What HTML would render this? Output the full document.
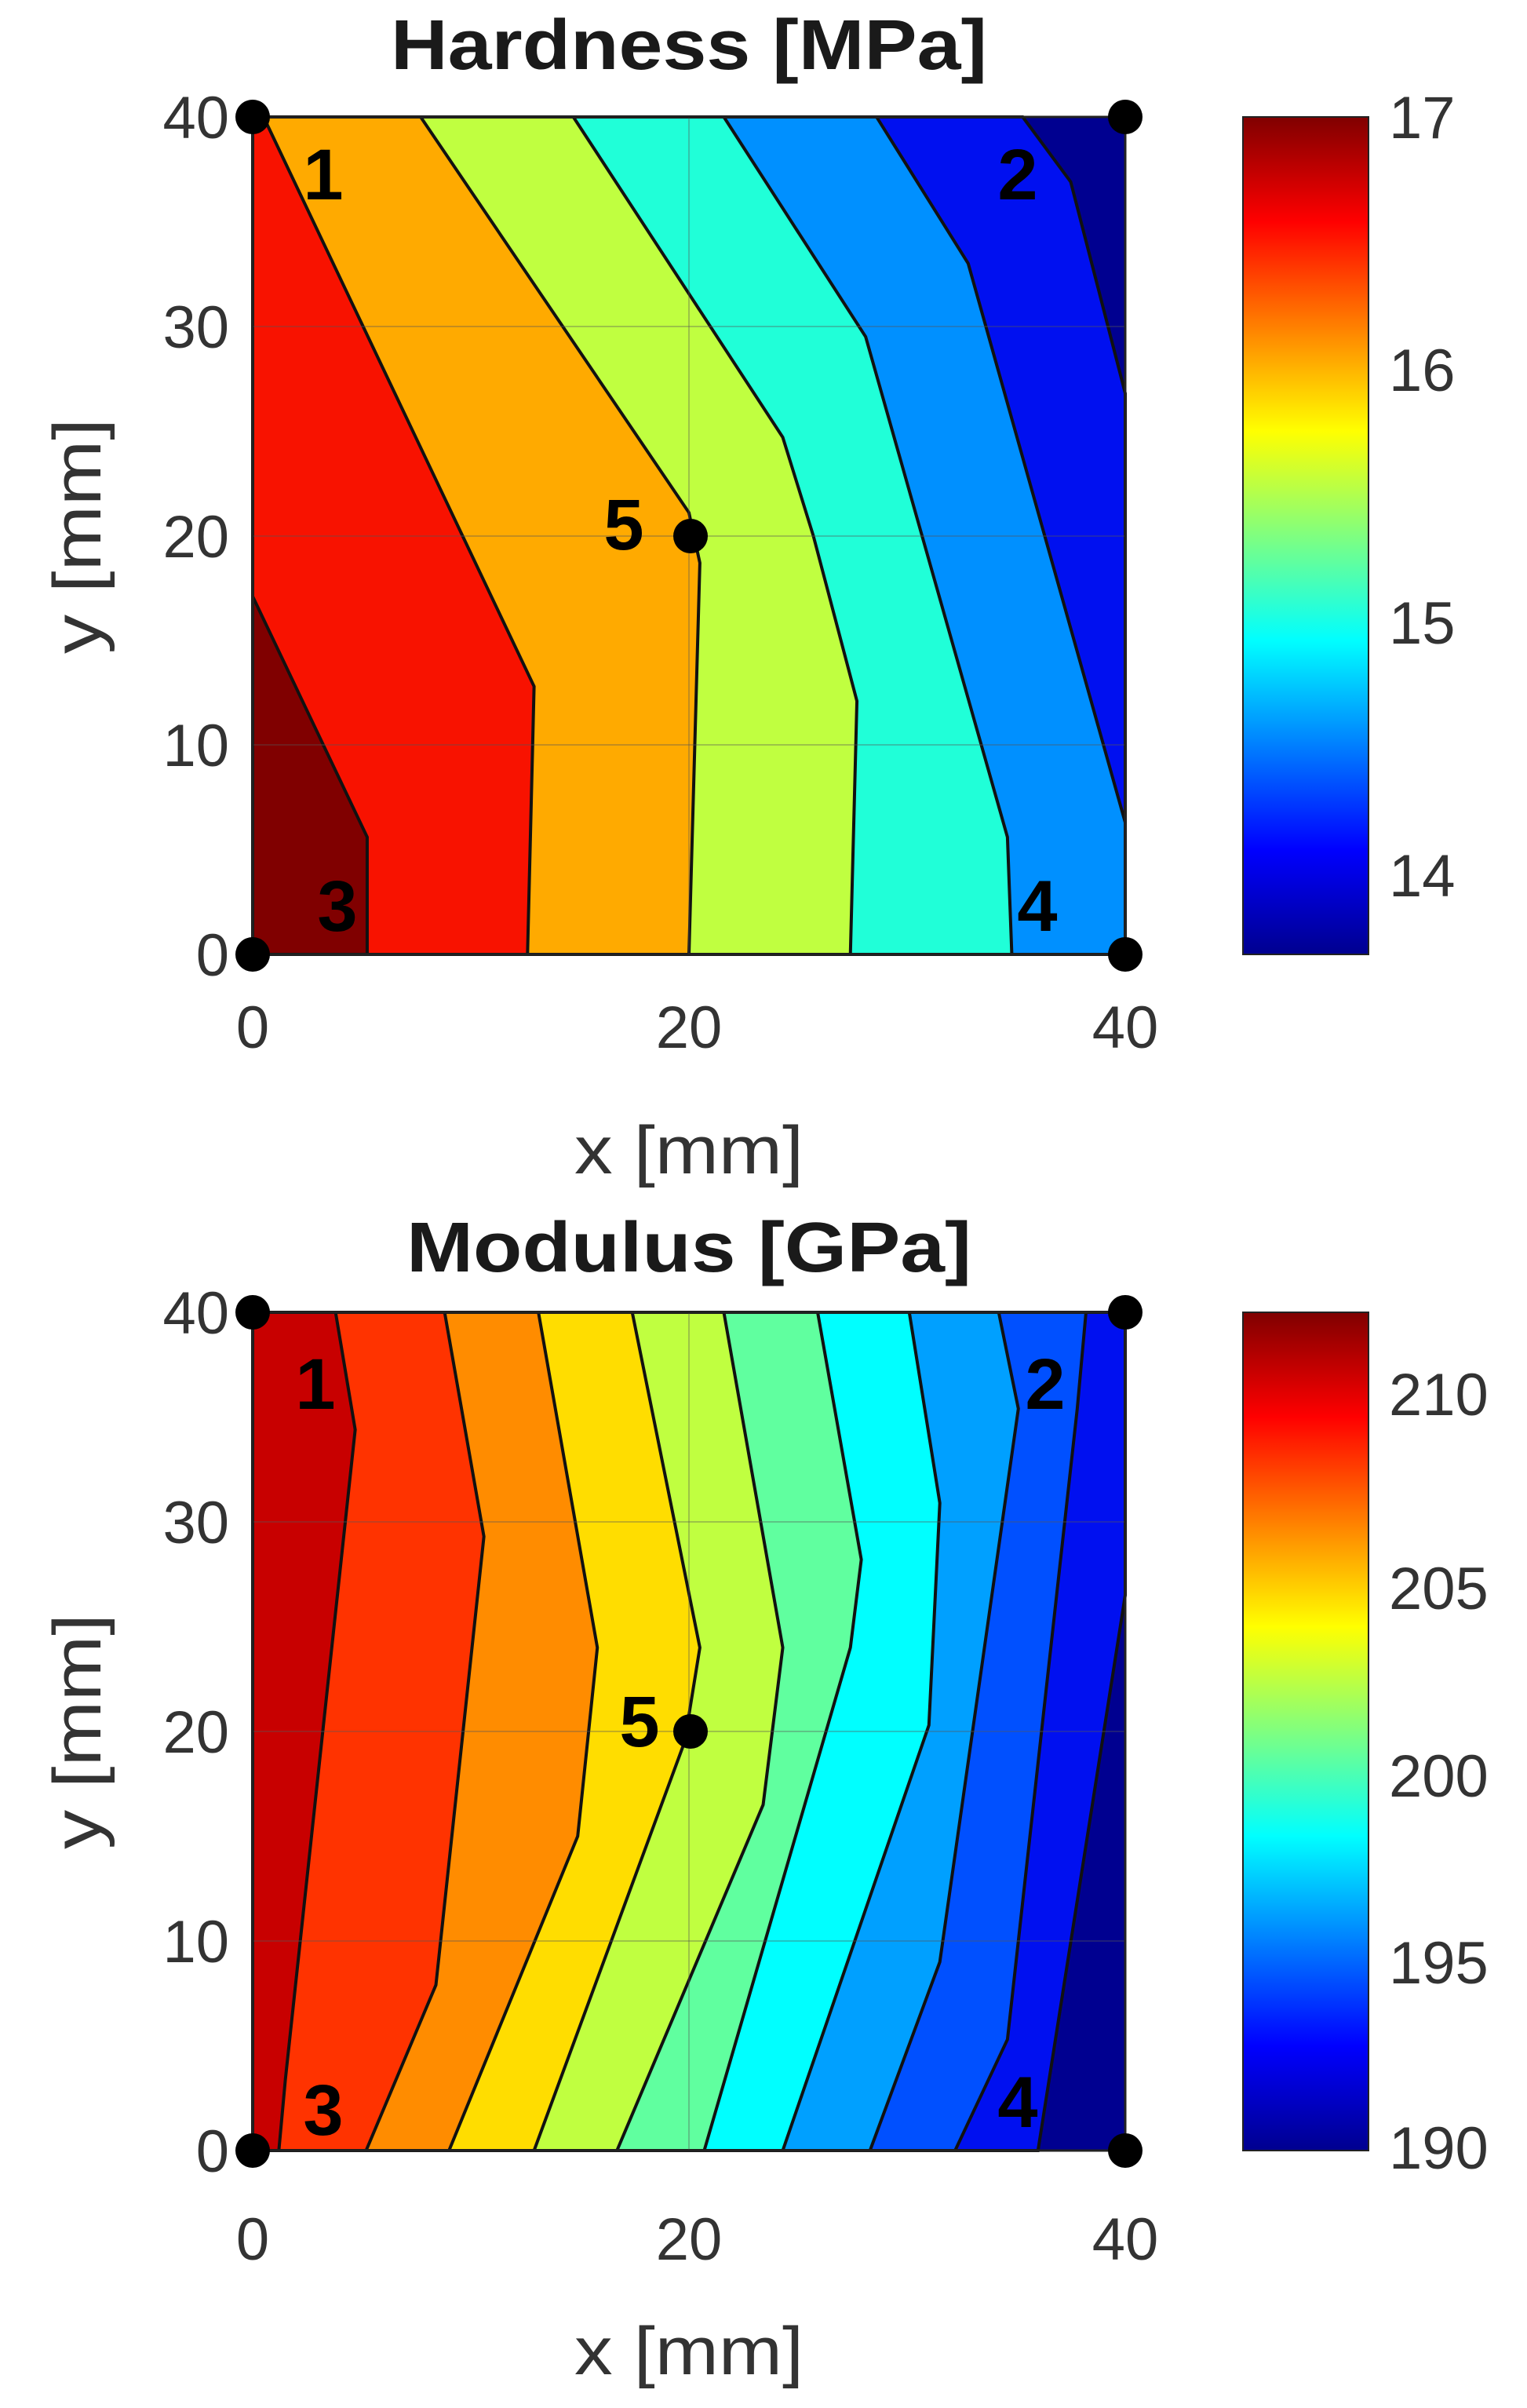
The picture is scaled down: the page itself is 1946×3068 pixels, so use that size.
<!DOCTYPE html>
<html><head><meta charset="utf-8"><style>
html,body{margin:0;padding:0;background:#fff;}
svg{display:block;}
text{font-family:"Liberation Sans",sans-serif;}
</style></head><body>
<svg width="1946" height="3068" viewBox="0 0 1946 3068" xmlns="http://www.w3.org/2000/svg">
<defs>
<linearGradient id="jet" x1="0" y1="1" x2="0" y2="0">
<stop offset="0" stop-color="#00008f"/>
<stop offset="0.125" stop-color="#0000ff"/>
<stop offset="0.375" stop-color="#00ffff"/>
<stop offset="0.625" stop-color="#ffff00"/>
<stop offset="0.875" stop-color="#ff0000"/>
<stop offset="1" stop-color="#800000"/>
</linearGradient>
</defs>

<!-- ============ TOP PLOT ============ -->
<text x="878" y="88" font-size="90" font-weight="bold" text-anchor="middle" fill="#1a1a1a" textLength="760" lengthAdjust="spacingAndGlyphs">Hardness [MPa]</text>
<g transform="translate(322,1216) scale(27.8,-26.675)" stroke="#111" stroke-width="4">
<rect x="0" y="0" width="40" height="40" fill="#000090" stroke="none"/>
<polygon points="35.3,40 37.5,36.9 40,26.8 40,0 0,0 0,40" fill="#0010f0" vector-effect="non-scaling-stroke"/>
<polygon points="28.6,40 32.8,33 40,6.3 40,0 0,0 0,40" fill="#0090ff" vector-effect="non-scaling-stroke"/>
<polygon points="21.6,40 28.1,29.5 34.6,5.6 34.8,0 0,0 0,40" fill="#20ffd8" vector-effect="non-scaling-stroke"/>
<polygon points="14.7,40 24.3,24.7 25.7,20 27.7,12.1 27.4,0 0,0 0,40" fill="#c0ff40" vector-effect="non-scaling-stroke"/>
<polygon points="7.7,40 20,21.1 20.5,18.7 20,0 0,0 0,40" fill="#ffaa00" vector-effect="non-scaling-stroke"/>
<polygon points="0.5,40 12.9,12.8 12.6,0 0,0 0,40" fill="#f81200" vector-effect="non-scaling-stroke"/>
<polygon points="0,17.1 5.25,5.6 5.25,0 0,0" fill="#800000" vector-effect="non-scaling-stroke"/>
</g>
<g stroke="#555" stroke-opacity="0.35" stroke-width="2">
<line x1="878" y1="149" x2="878" y2="1216"/>
<line x1="322" y1="416" x2="1434" y2="416"/>
<line x1="322" y1="683" x2="1434" y2="683"/>
<line x1="322" y1="949" x2="1434" y2="949"/>
</g>
<rect x="322" y="149" width="1112" height="1067" fill="none" stroke="#222" stroke-width="3"/>
<g fill="#333" font-size="76" text-anchor="end">
<text x="292" y="176">40</text><text x="292" y="443">30</text><text x="292" y="710">20</text><text x="292" y="976">10</text><text x="292" y="1243">0</text>
</g>
<g fill="#333" font-size="76" text-anchor="middle">
<text x="322" y="1335">0</text><text x="878" y="1335">20</text><text x="1434" y="1335">40</text>
</g>
<text x="878" y="1495" font-size="86" fill="#333" text-anchor="middle" textLength="292" lengthAdjust="spacingAndGlyphs">x [mm]</text>
<text transform="translate(128,683) rotate(-90)" font-size="86" fill="#333" text-anchor="middle" textLength="300" lengthAdjust="spacingAndGlyphs">y [mm]</text>
<g fill="#000">
<circle cx="322" cy="149" r="22"/><circle cx="1434" cy="149" r="22"/><circle cx="322" cy="1216" r="22"/><circle cx="1434" cy="1216" r="22"/><circle cx="880" cy="683" r="22"/>
</g>
<g font-size="92" font-weight="bold" fill="#000" text-anchor="middle" font-family="DejaVu Sans,sans-serif">
<text x="412" y="254">1</text><text x="1297" y="254">2</text><text x="430" y="1186">3</text><text x="1322" y="1186">4</text><text x="795" y="700">5</text>
</g>
<rect x="1584" y="149" width="160" height="1067" fill="url(#jet)" stroke="#222" stroke-width="2"/>
<g fill="#333" font-size="76">
<text x="1770" y="176">17</text><text x="1770" y="498">16</text><text x="1770" y="820">15</text><text x="1770" y="1142">14</text>
</g>

<!-- ============ BOTTOM PLOT ============ -->
<text x="878" y="1620" font-size="90" font-weight="bold" text-anchor="middle" fill="#1a1a1a" textLength="720" lengthAdjust="spacingAndGlyphs">Modulus [GPa]</text>
<g transform="translate(322,2740) scale(27.8,-26.7)" stroke="#111" stroke-width="4">
<rect x="0" y="0" width="40" height="40" fill="#000090" stroke="none"/>
<polygon points="40,40 40,26.5 36,0 0,0 0,40" fill="#0010f0" vector-effect="non-scaling-stroke"/>
<polygon points="38.2,40 37.8,35.4 34.6,5.3 32.2,0 0,0 0,40" fill="#0050ff" vector-effect="non-scaling-stroke"/>
<polygon points="34.2,40 35.1,35.4 31.5,9 28.3,0 0,0 0,40" fill="#00a0ff" vector-effect="non-scaling-stroke"/>
<polygon points="30.1,40 31.5,30.9 31,20.3 24.3,0 0,0 0,40" fill="#00ffff" vector-effect="non-scaling-stroke"/>
<polygon points="25.9,40 27.9,28.2 27.4,24 20.7,0 0,0 0,40" fill="#60ff9f" vector-effect="non-scaling-stroke"/>
<polygon points="21.6,40 24.3,24 23.4,16.5 16.7,0 0,0 0,40" fill="#c0ff40" vector-effect="non-scaling-stroke"/>
<polygon points="17.4,40 20.5,24 19.8,19.5 12.9,0 0,0 0,40" fill="#ffdd00" vector-effect="non-scaling-stroke"/>
<polygon points="13.1,40 15.8,24 14.9,15 9,0 0,0 0,40" fill="#ff8c00" vector-effect="non-scaling-stroke"/>
<polygon points="8.8,40 10.6,29.3 8.4,7.9 5.2,0 0,0 0,40" fill="#ff3300" vector-effect="non-scaling-stroke"/>
<polygon points="3.8,40 4.7,34.4 1.5,3.4 1.2,0 0,0 0,40" fill="#c80000" vector-effect="non-scaling-stroke"/>
</g>
<g stroke="#555" stroke-opacity="0.35" stroke-width="2">
<line x1="878" y1="1672" x2="878" y2="2740"/>
<line x1="322" y1="1939" x2="1434" y2="1939"/>
<line x1="322" y1="2206" x2="1434" y2="2206"/>
<line x1="322" y1="2473" x2="1434" y2="2473"/>
</g>
<rect x="322" y="1672" width="1112" height="1068" fill="none" stroke="#222" stroke-width="3"/>
<g fill="#333" font-size="76" text-anchor="end">
<text x="292" y="1699">40</text><text x="292" y="1966">30</text><text x="292" y="2233">20</text><text x="292" y="2500">10</text><text x="292" y="2767">0</text>
</g>
<g fill="#333" font-size="76" text-anchor="middle">
<text x="322" y="2879">0</text><text x="878" y="2879">20</text><text x="1434" y="2879">40</text>
</g>
<text x="878" y="3025" font-size="86" fill="#333" text-anchor="middle" textLength="292" lengthAdjust="spacingAndGlyphs">x [mm]</text>
<text transform="translate(128,2206) rotate(-90)" font-size="86" fill="#333" text-anchor="middle" textLength="300" lengthAdjust="spacingAndGlyphs">y [mm]</text>
<g fill="#000">
<circle cx="322" cy="1672" r="22"/><circle cx="1434" cy="1672" r="22"/><circle cx="322" cy="2740" r="22"/><circle cx="1434" cy="2740" r="22"/><circle cx="880" cy="2206" r="22"/>
</g>
<g font-size="92" font-weight="bold" fill="#000" text-anchor="middle" font-family="DejaVu Sans,sans-serif">
<text x="402" y="1795">1</text><text x="1332" y="1795">2</text><text x="412" y="2720">3</text><text x="1297" y="2710">4</text><text x="815" y="2225">5</text>
</g>
<rect x="1584" y="1672" width="160" height="1068" fill="url(#jet)" stroke="#222" stroke-width="2"/>
<g fill="#333" font-size="76">
<text x="1770" y="1803">210</text><text x="1770" y="2050">205</text><text x="1770" y="2289">200</text><text x="1770" y="2527">195</text><text x="1770" y="2763">190</text>
</g>
</svg>
</body></html>
